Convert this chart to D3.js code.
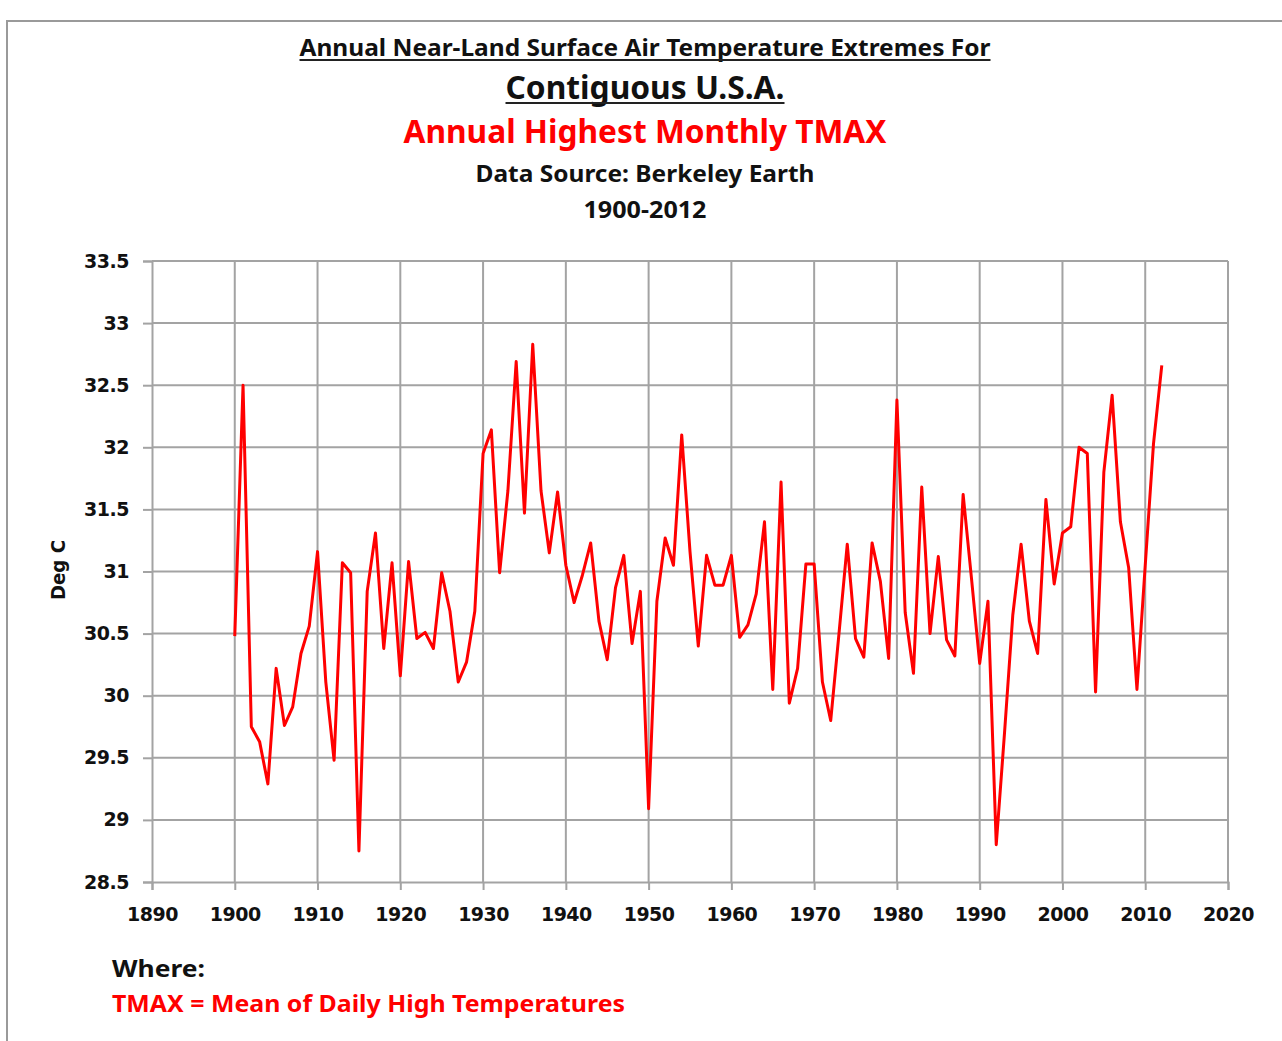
<!DOCTYPE html>
<html>
<head>
<meta charset="utf-8">
<script src="https://cdn.jsdelivr.net/npm/d3@7"></script>
<style>
  body { margin: 0; background: #fff; }
  svg { display: block; }
</style>
</head>
<body>
<div id="chart"></div>
<script>
// years and annual highest monthly TMAX (deg C)
const years = d3.range(1900, 2013);
const tmax = [
  30.48, 32.50, 29.75, 29.63, 29.29, 30.22, 29.76, 29.91, 30.34, 30.56,
  31.16, 30.11, 29.48, 31.07, 30.99, 28.75, 30.84, 31.31, 30.38, 31.07,
  30.16, 31.08, 30.46, 30.51, 30.38, 30.99, 30.68, 30.11, 30.27, 30.68,
  31.95, 32.14, 30.99, 31.65, 32.69, 31.47, 32.83, 31.65, 31.15, 31.64,
  31.05, 30.75, 30.97, 31.23, 30.60, 30.29, 30.87, 31.13, 30.42, 30.84,
  29.09, 30.76, 31.27, 31.05, 32.10, 31.16, 30.40, 31.13, 30.89, 30.89,
  31.13, 30.47, 30.57, 30.82, 31.40, 30.05, 31.72, 29.94, 30.22, 31.06,
  31.06, 30.11, 29.80, 30.50, 31.22, 30.46, 30.31, 31.23, 30.92, 30.30,
  32.38, 30.67, 30.18, 31.68, 30.50, 31.12, 30.45, 30.32, 31.62, 30.95,
  30.26, 30.76, 28.80, 29.70, 30.65, 31.22, 30.60, 30.34, 31.58, 30.90,
  31.31, 31.36, 32.00, 31.95, 30.03, 31.80, 32.42, 31.40, 31.03, 30.05,
  31.05, 32.03, 32.66
];
const xTicks = d3.range(1890, 2021, 10);
const yTicks = d3.range(28.5, 33.51, 0.5);

const width = 1282;
const height = 1041;
const margin = {top: 261, right: 54, bottom: 159, left: 152};

const svg = d3.select("#chart")
  .append("svg")
  .attr("width", width)
  .attr("height", height);

// outer frame
svg.append("path")
  .attr("d", `M7,${height} V21 H${width}`)
  .attr("fill", "none")
  .attr("stroke", "#9a9a9a")
  .attr("stroke-width", 2);

const x = d3.scaleLinear()
  .domain([1890, 2020])
  .range([margin.left, width - margin.right]);

const y = d3.scaleLinear()
  .domain([28.5, 33.5])
  .range([height - margin.bottom, margin.top]);

const gridColor = "#a3a3a3";

// gridlines
svg.append("g")
  .selectAll("line")
  .data(yTicks.slice(1))
  .join("line")
  .attr("x1", margin.left)
  .attr("x2", width - margin.right)
  .attr("y1", d => y(d))
  .attr("y2", d => y(d))
  .attr("stroke", gridColor)
  .attr("stroke-width", 2);

svg.append("g")
  .selectAll("line")
  .data(xTicks.slice(1))
  .join("line")
  .attr("x1", d => x(d))
  .attr("x2", d => x(d))
  .attr("y1", margin.top)
  .attr("y2", height - margin.bottom)
  .attr("stroke", gridColor)
  .attr("stroke-width", 2);

// axes
const yAxis = svg.append("g")
  .attr("transform", `translate(${margin.left},0)`)
  .call(d3.axisLeft(y).tickValues(yTicks).tickSize(9).tickPadding(14)
    .tickFormat(d => d3.format("~g")(d)));

const xAxis = svg.append("g")
  .attr("transform", `translate(0,${height - margin.bottom})`)
  .call(d3.axisBottom(x).tickValues(xTicks).tickSize(8).tickPadding(20)
    .tickFormat(d3.format("d")));

[yAxis, xAxis].forEach(g => {
  g.select(".domain").attr("stroke", gridColor).attr("stroke-width", 2);
  g.selectAll(".tick line").attr("stroke", gridColor).attr("stroke-width", 2);
  g.selectAll(".tick text")
    .attr("fill", "#111")
    .style("font-family", "'DejaVu Sans', Verdana, sans-serif")
    .style("font-weight", "bold")
    .style("font-size", "19px")
    .style("letter-spacing", "-0.5px");
});
xAxis.selectAll(".tick text").attr("dy", "0.6em");

// y axis label
svg.append("text")
  .attr("transform", "rotate(-90)")
  .attr("x", -570)
  .attr("y", 65)
  .attr("text-anchor", "middle")
  .attr("textLength", 60)
  .attr("lengthAdjust", "spacingAndGlyphs")
  .style("font-family", "'DejaVu Sans', Verdana, sans-serif")
  .style("font-weight", "bold")
  .style("font-size", "19px")
  .attr("fill", "#111")
  .text("Deg C");

// data line
const line = d3.line()
  .x((d, i) => x(years[i]))
  .y(d => y(d));

svg.append("path")
  .datum(tmax)
  .attr("d", line)
  .attr("fill", "none")
  .attr("stroke", "#ff0000")
  .attr("stroke-width", 3)
  .attr("stroke-linejoin", "round");

// titles
const titleFont = "'Noto Sans', 'Open Sans', sans-serif";
const titles = [
  {text: "Annual Near-Land Surface Air Temperature Extremes For", y: 56, size: 24, w: 691, color: "#111", underline: true},
  {text: "Contiguous U.S.A.", y: 99, size: 32, w: 279, color: "#111", underline: true},
  {text: "Annual Highest Monthly TMAX", y: 143, size: 32, w: 483, color: "#ff0000", underline: false},
  {text: "Data Source: Berkeley Earth", y: 182, size: 24, w: 339, color: "#111", underline: false},
  {text: "1900-2012", y: 218, size: 24, w: 123, color: "#111", underline: false}
];
const cx = 645;

titles.forEach(t => {
  svg.append("text")
    .attr("x", cx)
    .attr("y", t.y)
    .attr("text-anchor", "middle")
    .attr("textLength", t.w)
    .attr("lengthAdjust", "spacingAndGlyphs")
    .style("font-family", titleFont)
    .style("font-weight", "bold")
    .style("font-size", t.size + "px")
    .attr("fill", t.color)
    .text(t.text);
  if (t.underline) {
    svg.append("line")
      .attr("x1", cx - t.w / 2)
      .attr("x2", cx + t.w / 2)
      .attr("y1", t.y + 4)
      .attr("y2", t.y + 4)
      .attr("stroke", "#222")
      .attr("stroke-width", 2);
  }
});

// footnote
svg.append("text")
  .attr("x", 112)
  .attr("y", 977)
  .attr("textLength", 93)
  .attr("lengthAdjust", "spacingAndGlyphs")
  .style("font-family", titleFont)
  .style("font-weight", "bold")
  .style("font-size", "24px")
  .attr("fill", "#111")
  .text("Where:");

svg.append("text")
  .attr("x", 112)
  .attr("y", 1012)
  .attr("textLength", 513)
  .attr("lengthAdjust", "spacingAndGlyphs")
  .style("font-family", titleFont)
  .style("font-weight", "bold")
  .style("font-size", "24px")
  .attr("fill", "#ff0000")
  .text("TMAX = Mean of Daily High Temperatures");
</script>
</body>
</html>
